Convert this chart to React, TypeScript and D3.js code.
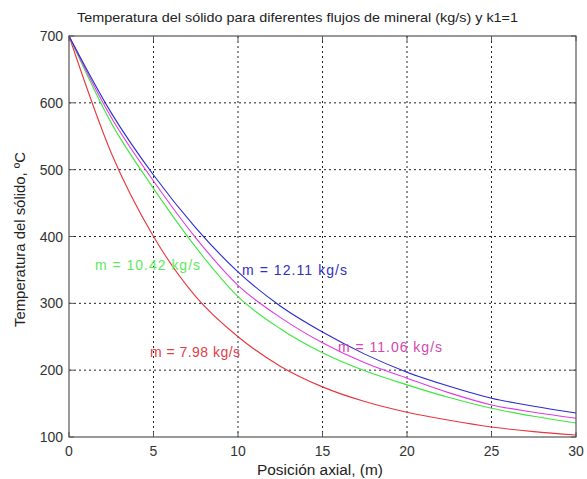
import React, { useEffect, useRef } from 'react';
import * as d3 from 'd3';

// Posición axial (m)
const posicion = [0, 2.5, 5, 7.5, 10, 12.5, 15, 17.5, 20, 22.5, 25, 27.5, 30];

// Temperatura del sólido (ºC) para cada flujo
const temp798 = [700, 525, 400, 310, 250, 206, 175, 153, 137, 125, 115, 108, 103];
const temp1042 = [700, 570, 472, 384, 310, 262, 226, 199, 178, 159, 143, 131, 121];
const temp1106 = [700, 578, 483, 398, 327, 279, 241, 211, 188, 166, 148, 137, 128];
const temp1211 = [700, 585, 492, 413, 347, 296, 257, 224, 197, 176, 158, 146, 136];

const xTicks = [0, 5, 10, 15, 20, 25, 30];
const yTicks = [100, 200, 300, 400, 500, 600, 700];

const series = [
  { name: 'm = 7.98 kg/s', values: temp798, color: '#e8363c', text: '#e0404a', lx: 150, ly: 357, len: 90 },
  { name: 'm = 10.42 kg/s', values: temp1042, color: '#3ce83c', text: '#5ee85e', lx: 95, ly: 270, len: 105 },
  { name: 'm = 11.06 kg/s', values: temp1106, color: '#e23ae2', text: '#d448b0', lx: 338, ly: 352, len: 104 },
  { name: 'm = 12.11 kg/s', values: temp1211, color: '#2a2ad0', text: '#3030c0', lx: 242, ly: 275, len: 105 },
];

const W = 587;
const H = 479;
const FONT = '"Liberation Sans", Arial, Helvetica, sans-serif';

const App = () => {
  const ref = useRef<SVGSVGElement | null>(null);

  useEffect(() => {
    const svg = d3.select(ref.current);
    svg.selectAll('*').remove();

    const x = d3.scaleLinear().domain([0, 30]).range([69, 576]);
    const y = d3.scaleLinear().domain([100, 700]).range([437, 36]);

    svg.append('rect').attr('width', W).attr('height', H).attr('fill', '#ffffff');

    // grid (dotted, MATLAB style)
    const grid = svg.append('g').attr('stroke', '#222').attr('stroke-width', 1)
      .attr('stroke-dasharray', '2,3');
    xTicks.slice(1, -1).forEach(t => {
      grid.append('line').attr('x1', x(t)).attr('x2', x(t)).attr('y1', y(700)).attr('y2', y(100));
    });
    yTicks.slice(1, -1).forEach(t => {
      grid.append('line').attr('x1', x(0)).attr('x2', x(30)).attr('y1', y(t)).attr('y2', y(t));
    });

    // curves
    const line = d3.line<number>()
      .x((d, i) => x(posicion[i]))
      .y(d => y(d))
      .curve(d3.curveMonotoneX);

    series.forEach(s => {
      svg.append('path')
        .datum(s.values)
        .attr('d', line)
        .attr('fill', 'none')
        .attr('stroke', s.color)
        .attr('stroke-width', 1.1);
    });

    // box + inward ticks
    svg.append('rect')
      .attr('x', x(0)).attr('y', y(700))
      .attr('width', x(30) - x(0)).attr('height', y(100) - y(700))
      .attr('fill', 'none').attr('stroke', '#555').attr('stroke-width', 1.2);

    const ticks = svg.append('g').attr('stroke', '#555').attr('stroke-width', 1);
    xTicks.forEach(t => {
      ticks.append('line').attr('x1', x(t)).attr('x2', x(t)).attr('y1', y(100)).attr('y2', y(100) - 5);
      ticks.append('line').attr('x1', x(t)).attr('x2', x(t)).attr('y1', y(700)).attr('y2', y(700) + 5);
    });
    yTicks.forEach(t => {
      ticks.append('line').attr('x1', x(0)).attr('x2', x(0) + 5).attr('y1', y(t)).attr('y2', y(t));
      ticks.append('line').attr('x1', x(30)).attr('x2', x(30) - 5).attr('y1', y(t)).attr('y2', y(t));
    });

    // tick labels
    svg.append('g').selectAll('text').data(xTicks).join('text')
      .attr('x', d => x(d)).attr('y', 456)
      .attr('text-anchor', 'middle')
      .attr('font-family', FONT).attr('font-size', 14).attr('fill', '#333')
      .text(d => d);

    svg.append('g').selectAll('text').data(yTicks).join('text')
      .attr('x', 63).attr('y', d => y(d) + 5)
      .attr('text-anchor', 'end')
      .attr('font-family', FONT).attr('font-size', 14).attr('fill', '#333')
      .text(d => d);

    // title and axis labels
    svg.append('text')
      .attr('x', 77).attr('y', 22)
      .attr('font-family', FONT).attr('font-size', 13.5).attr('fill', '#222')
      .attr('textLength', 441).attr('lengthAdjust', 'spacingAndGlyphs')
      .text('Temperatura del sólido para diferentes flujos de mineral (kg/s) y k1=1');

    svg.append('text')
      .attr('x', 257).attr('y', 475)
      .attr('font-family', FONT).attr('font-size', 14).attr('fill', '#222')
      .attr('textLength', 126).attr('lengthAdjust', 'spacingAndGlyphs')
      .text('Posición axial, (m)');

    svg.append('text')
      .attr('transform', 'translate(25, 327) rotate(-90)')
      .attr('font-family', FONT).attr('font-size', 14).attr('fill', '#222')
      .attr('textLength', 175).attr('lengthAdjust', 'spacingAndGlyphs')
      .text('Temperatura del sólido, ºC');

    // curve labels
    series.forEach(s => {
      svg.append('text')
        .attr('x', s.lx).attr('y', s.ly)
        .attr('font-family', FONT).attr('font-size', 14).attr('fill', s.text)
        .attr('textLength', s.len).attr('lengthAdjust', 'spacing')
        .text(s.name);
    });
  }, []);

  return (
    <div style={{ position: 'fixed', left: 0, top: 0 }}>
      <svg ref={ref} width={W} height={H} style={{ display: 'block' }} />
    </div>
  );
};

export default App;
